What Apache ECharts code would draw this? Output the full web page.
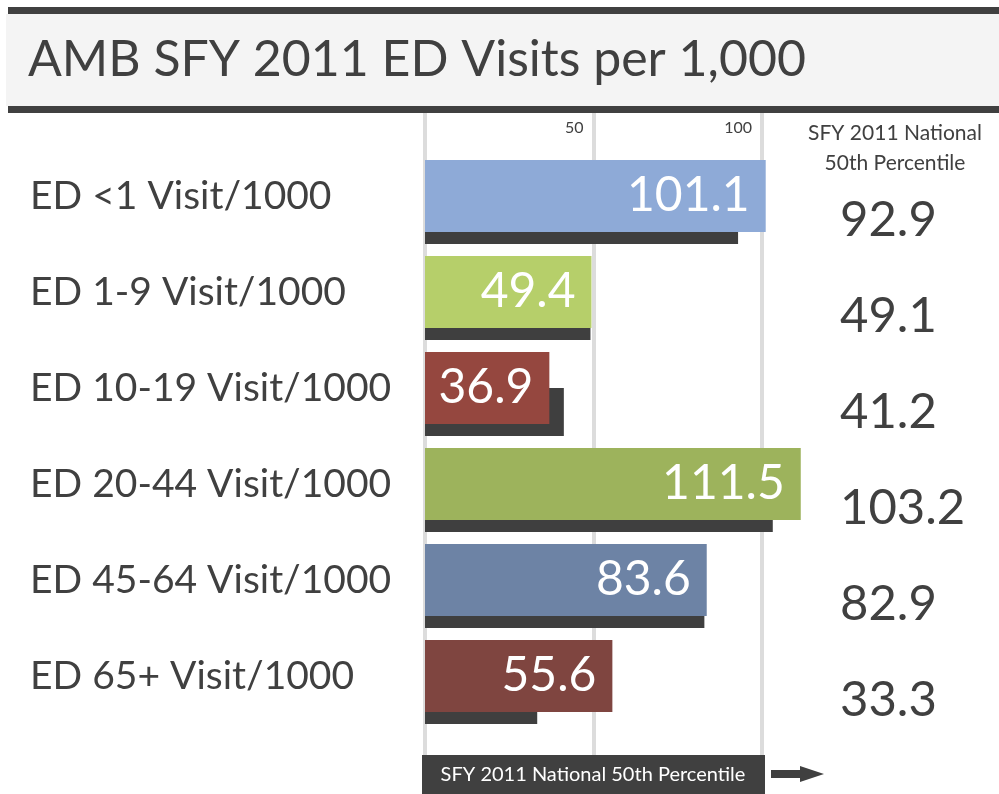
<!DOCTYPE html>
<html>
<head>
<meta charset="utf-8">
<title>AMB SFY 2011 ED Visits per 1,000</title>
<script src="https://cdn.jsdelivr.net/npm/echarts@6/dist/echarts.min.js"></script>
<style>
    html, body { margin: 0; padding: 0; background: #fff; }
    #chart { width: 999px; height: 794px; }
</style>
</head>
<body>
<div id="chart"></div>
<script>
    var categories = ['ED <1 Visit/1000', 'ED 1-9 Visit/1000', 'ED 10-19 Visit/1000',
        'ED 20-44 Visit/1000', 'ED 45-64 Visit/1000', 'ED 65+ Visit/1000'];
    var ambValues = [101.1, 49.4, 36.9, 111.5, 83.6, 55.6];
    var nationalValues = [92.9, 49.1, 41.2, 103.2, 82.9, 33.3];
    var barColors = ['#8eaad7', '#b6cf6a', '#95473f', '#9db35c', '#6d83a5', '#7f4540'];
    var axisTicks = [0, 50, 100];

    var FONT = 'Lato';
    var DARK = '#404040';

    var chart = echarts.init(document.getElementById('chart'));

    var colorData = [];
    for (var i = 0; i < ambValues.length; i++) {
        colorData.push({ value: ambValues[i], itemStyle: { color: barColors[i] } });
    }

    var option = {
        backgroundColor: '#fff',
        animation: false,
        grid: [
            // gridlines + tick labels
            { left: 425, width: 337, top: 113, height: 642 },
            // colored bars
            { left: 425, width: 337, top: 148, height: 576 },
            // national (dark) bars
            { left: 425, width: 337, top: 172, height: 576 }
        ],
        xAxis: [
            {
                gridIndex: 0, type: 'value', min: axisTicks[0], max: axisTicks[2], interval: 50,
                position: 'top',
                axisLine: { show: false }, axisTick: { show: false },
                splitLine: { show: true, lineStyle: { color: '#dcdcdc', width: 4 } },
                axisLabel: {
                    inside: true, margin: 7, color: DARK, fontFamily: FONT, fontSize: 16,
                    align: 'right', padding: [0, 10, 0, 0],
                    formatter: function (v) { return v === 0 ? '' : String(v); }
                }
            },
            { gridIndex: 1, type: 'value', min: 0, max: 100, show: false },
            { gridIndex: 2, type: 'value', min: 0, max: 100, show: false }
        ],
        yAxis: [
            { gridIndex: 0, type: 'value', show: false },
            {
                gridIndex: 1, type: 'category', data: categories, inverse: true,
                axisLine: { show: false }, axisTick: { show: false },
                axisLabel: {
                    margin: 395, align: 'left', color: DARK, fontFamily: FONT, fontSize: 39,
                    padding: [0, 0, 4, 0]
                }
            },
            {
                gridIndex: 2, type: 'category', data: categories, inverse: true, position: 'right',
                axisLine: { show: false }, axisTick: { show: false },
                axisLabel: {
                    margin: 78, align: 'left', color: DARK, fontFamily: FONT, fontSize: 49,
                    padding: [0, 0, 14, 0],
                    formatter: function (v, idx) { return nationalValues[idx].toFixed(1); }
                }
            }
        ],
        series: [
            {
                name: 'SFY 2011 National 50th Percentile', type: 'bar',
                xAxisIndex: 2, yAxisIndex: 2, barWidth: 48, clip: false, z: 2,
                itemStyle: { color: '#3f3f3f' },
                data: nationalValues
            },
            {
                name: 'AMB', type: 'bar',
                xAxisIndex: 1, yAxisIndex: 1, barWidth: 72, clip: false, z: 3,
                label: {
                    show: true, position: 'insideRight', distance: 16,
                    color: '#fff', fontFamily: FONT, fontSize: 48,
                    formatter: function (p) { return p.value.toFixed(1); }
                },
                data: colorData
            }
        ],
        graphic: [
            { type: 'rect', shape: { x: 6, y: 14, width: 993, height: 92 }, style: { fill: '#f4f4f4' }, z: 0 },
            { type: 'rect', shape: { x: 8, y: 7, width: 991, height: 7 }, style: { fill: DARK } },
            { type: 'rect', shape: { x: 8, y: 106, width: 991, height: 7 }, style: { fill: DARK } },
            {
                type: 'text', x: 28, y: 60,
                style: { text: 'AMB SFY 2011 ED Visits per 1,000', fill: DARK, font: '50px ' + FONT, textVerticalAlign: 'middle' }
            },
            {
                type: 'text', x: 895, y: 133,
                style: { text: 'SFY 2011 National', fill: DARK, font: '21px ' + FONT, textAlign: 'center', textVerticalAlign: 'middle' }
            },
            {
                type: 'text', x: 895, y: 163,
                style: { text: '50th Percentile', fill: DARK, font: '21px ' + FONT, textAlign: 'center', textVerticalAlign: 'middle' }
            },
            { type: 'rect', shape: { x: 422, y: 755, width: 343, height: 39 }, style: { fill: DARK }, z: 10 },
            {
                type: 'text', x: 593, y: 775, z: 11,
                style: { text: 'SFY 2011 National 50th Percentile', fill: '#fff', font: '20px ' + FONT, textAlign: 'center', textVerticalAlign: 'middle' }
            },
            {
                type: 'polygon', z: 10,
                shape: { points: [[771, 770], [800, 770], [800, 766], [824, 774], [800, 782], [800, 778], [771, 778]] },
                style: { fill: DARK }
            }
        ]
    };

    chart.setOption(option);
</script>
</body>
</html>
